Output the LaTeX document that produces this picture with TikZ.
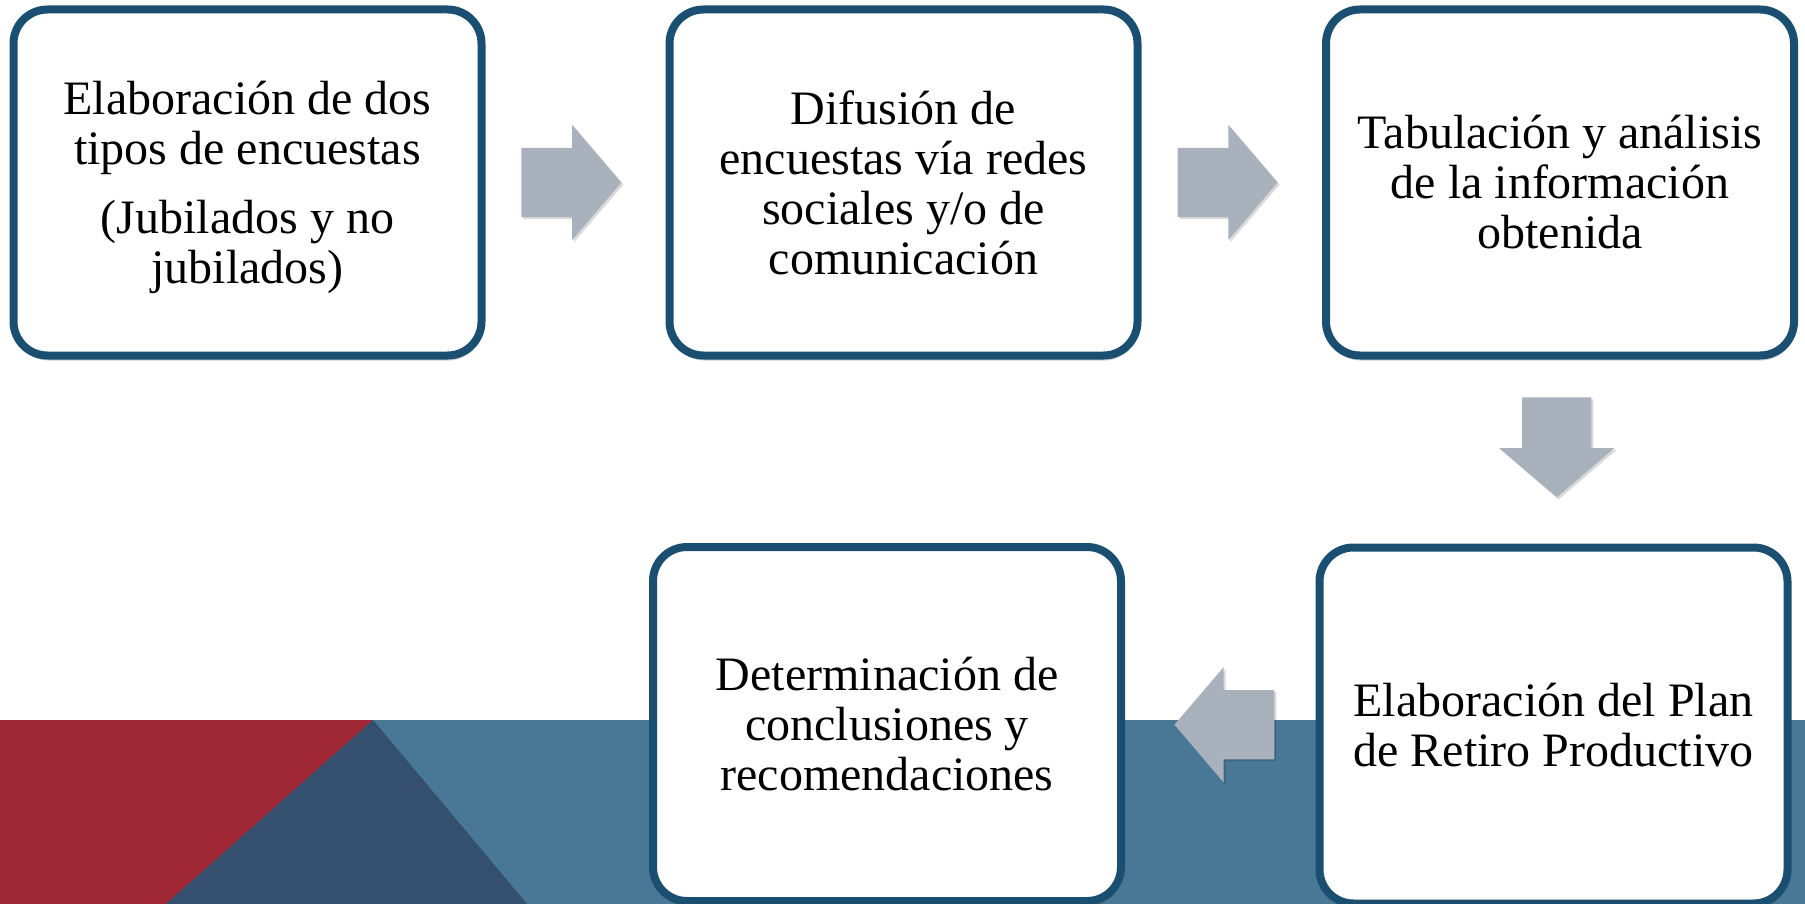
\documentclass[tikz,border=0pt]{standalone}
\usepackage{fontspec}
\setmainfont{Liberation Serif}
\usetikzlibrary{positioning, calc, shapes.arrows, shadows}

\definecolor{stepblue}{RGB}{27,79,114}
\definecolor{arrowgray}{RGB}{169,177,189}
\definecolor{bandred}{RGB}{161,41,55}
\definecolor{banddark}{RGB}{53,79,110}
\definecolor{bandlight}{RGB}{72,120,150}

\begin{document}
\begin{tikzpicture}[
    font=\fontsize{48pt}{50pt}\selectfont,
    stepbox/.style={
        draw=stepblue, line width=8pt, fill=white, rounded corners=34pt,
        minimum width=468pt, minimum height=346pt,
        align=center, inner sep=0pt,
        drop shadow={shadow xshift=1pt, shadow yshift=-5pt, opacity=0.2, fill=black},
    },
    flow/.style={
        single arrow, fill=arrowgray, draw=none,
        inner xsep=0pt, inner ysep=34.5pt, minimum height=100pt,
        single arrow head extend=23pt, single arrow tip angle=99,
        drop shadow={shadow xshift=2pt, shadow yshift=-2pt, opacity=0.15, fill=black},
    },
]
% page frame
\useasboundingbox (0,0) rectangle (1805pt,-904pt);

% bottom band
\fill[bandlight] (0,-720pt) rectangle (1805pt,-904pt);
\fill[bandred] (0,-720pt) -- (373pt,-720pt) -- (166pt,-904pt) -- (0,-904pt) -- cycle;
\fill[banddark] (373pt,-720pt) -- (527pt,-904pt) -- (166pt,-904pt) -- cycle;

% column x-coordinates
\def\colA{247.5}   % first step
\def\colB{903.5}   % second step
\def\colC{1560}    % third step
\def\colD{887}     % last step
\def\colE{1553.5}  % plan
% row y-coordinates
\def\rowT{-182.5}
\def\rowB{-725.5}

% steps (top row)
\node[stepbox] (s1) at (\colA pt,\rowT pt) {\rule{0pt}{43pt}Elaboración de dos\\tipos de encuestas\\[19pt](Jubilados y no\\jubilados)};
\node[stepbox] (s2) at (\colB pt,\rowT pt) {Difusión de\\encuestas vía redes\\sociales y/o de\\comunicación};
\node[stepbox] (s3) at (\colC pt,\rowT pt) {Tabulación y análisis\\de la información\\obtenida};

% steps (bottom row)
\node[stepbox, minimum height=356pt] (s4) at (\colE pt,\rowB pt) {Elaboración del Plan\\de Retiro Productivo};
\node[stepbox, minimum height=354pt] (s5) at (\colD pt,-724pt) {Determinación de\\conclusiones y\\recomendaciones};

% --- block arrows (centre sits in the shaft, so pull back 19pt) ---
\node[flow] (a12) at ($(s1.east)!0.5!(s2.west) + (-19pt,0)$) {};
\node[flow] (a23) at ($(s2.east)!0.5!(s3.west) + (-19pt,0)$) {};
\node[flow, rotate=-90] (a34) at ($(s3.south)!0.5!(s4.north) + (0,19pt)$) {};
\node[flow, rotate=180] (a45) at ($(s4.west)!0.5!(s5.east) + (19pt,0)$) {};

\end{tikzpicture}
\end{document}
